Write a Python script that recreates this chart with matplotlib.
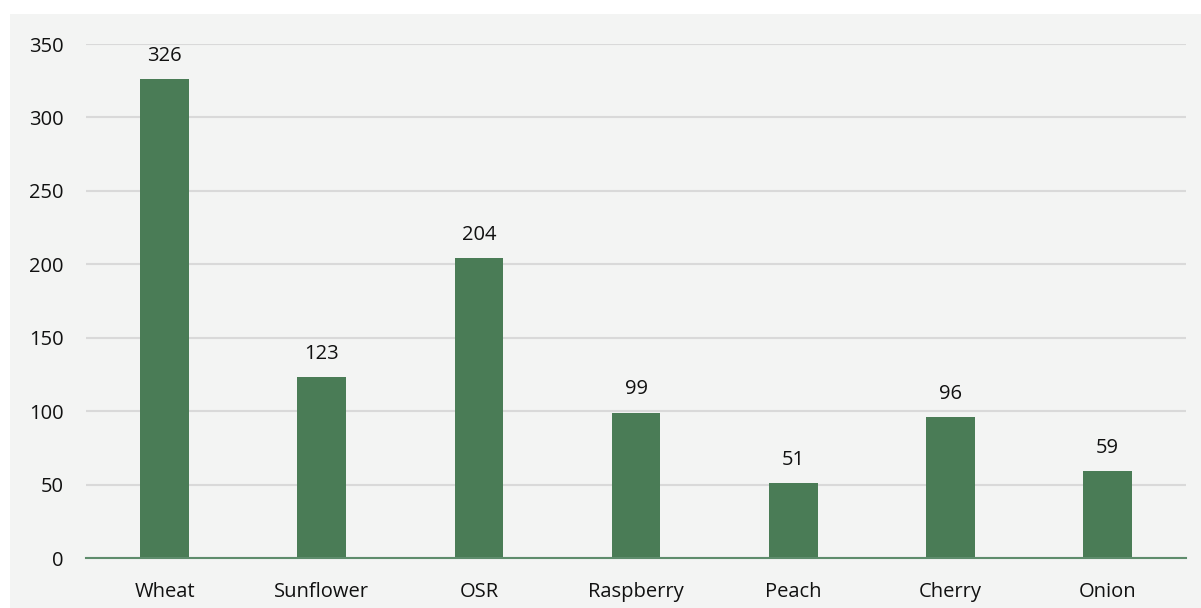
import matplotlib.pyplot as plt
from matplotlib.patches import Rectangle

crops = ["Wheat", "Sunflower", "OSR", "Raspberry", "Peach", "Cherry", "Onion"]
values = [326, 123, 204, 99, 51, 96, 59]
yticks = [0, 50, 100, 150, 200, 250, 300, 350]

plt.rcParams['font.family'] = ['Open Sans', 'DejaVu Sans']

W, H = 1201, 608
fig = plt.figure(figsize=(W / 100, H / 100), dpi=100, facecolor="white")

# grey chart area
fig.patches.append(Rectangle((10 / W, 0), 1 - 10 / W, 1 - 14 / H,
                             transform=fig.transFigure, facecolor="#f3f4f3",
                             edgecolor="none", zorder=-10))

ax = fig.add_axes([86 / W, (H - 558) / H, 1100 / W, (558 - 44) / H])
ax.set_facecolor("none")
ax.set_zorder(1)

x = range(len(crops))
ax.bar(x, values, width=0.31, color="#4a7c56", zorder=3)

for i, v in zip(x, values):
    ax.annotate(str(v), (i, v), xytext=(0, 9.5), textcoords="offset points",
                ha="center", va="bottom", fontsize=14.5, color="#111111")

ax.set_xlim(-0.5, len(crops) - 0.5)
ax.set_ylim(0, 350)
ax.set_yticks(yticks)
ax.set_xticks(list(x))
ax.set_xticklabels(crops)
ax.tick_params(axis="both", length=0, labelsize=14.5, labelcolor="#111111")
ax.tick_params(axis="x", pad=17)
ax.tick_params(axis="y", pad=16)

ax.grid(axis="y", color="#d9d9d9", linewidth=1.5, zorder=0)
for s in ["top", "right", "left"]:
    ax.spines[s].set_visible(False)
ax.spines["bottom"].set_color("#5e8c6c")
ax.spines["bottom"].set_linewidth(1.5)
ax.spines["bottom"].set_zorder(4)

fig.savefig("out.png", dpi=100, facecolor="white")
